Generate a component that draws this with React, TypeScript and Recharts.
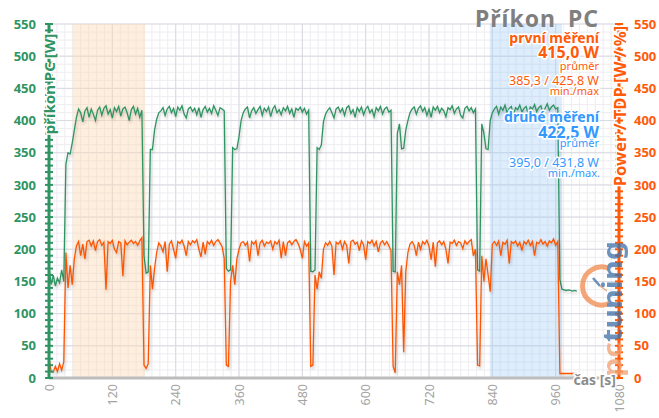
import { LineChart, Line, XAxis, YAxis, CartesianGrid, ReferenceArea } from "recharts";

// sampling step of the log [s]
const SAMPLE_STEP = 4;

// příkon PC [W], one value every 4 s from t = 0
const prikonPC = [
  172, 145, 160, 143, 155, 148, 168, 150, 332, 350,
  348, 365, 385, 405, 418, 412, 398, 415, 420, 405,
  418, 410, 400, 416, 421, 408, 419, 423, 410, 417,
  404, 420, 414, 422, 407, 418, 421, 412, 400, 417,
  422, 410, 419, 405, 416, 190, 163, 165, 355, 355,
  385, 402, 412, 415, 420, 408, 418, 422, 412, 419,
  406, 421, 416, 423, 410, 404, 418, 421, 414, 419,
  409, 420, 405, 417, 422, 413, 419, 411, 423, 416,
  408, 420, 418, 415, 170, 166, 168, 358, 355, 356,
  375, 400, 412, 418, 421, 404, 415, 420, 411, 417,
  422, 408, 419, 414, 421, 406, 418, 423, 412, 417,
  409, 420, 415, 422, 411, 418, 405, 419, 416, 421,
  413, 419, 410, 416, 166, 165, 168, 358, 355, 362,
  398, 410, 416, 420, 412, 404, 418, 421, 413, 419,
  408, 420, 423, 411, 417, 405, 420, 414, 421, 409,
  418, 422, 412, 417, 406, 420, 415, 422, 410, 418,
  421, 413, 416, 166, 165, 380, 395, 356, 357, 385,
  400, 412, 418, 421, 410, 419, 423, 414, 420, 408,
  418, 405, 421, 416, 422, 412, 419, 415, 406, 420,
  417, 423, 411, 418, 421, 408, 404, 419, 422, 415,
  420, 412, 418, 168, 166, 395, 380, 356, 355, 400,
  412, 418, 422, 410, 421, 416, 424, 412, 419, 422,
  408, 420, 417, 424, 413, 419, 422, 410, 421, 418,
  425, 414, 420, 423, 411, 419, 426, 416, 421, 424,
  418, 420, 153, 138, 137, 136, 137, 136, 135, 136,
  135,
];

// Power / TDP [W / %], same time steps
const powerTDP = [
  30, 10, 9, 18, 10, 22, 12, 25, 195, 140,
  175, 145, 185, 205, 212, 190, 208, 185, 212, 214,
  205, 213, 198, 212, 215, 206, 211, 137, 212, 209,
  214, 200, 195, 212, 210, 158, 213, 207, 211, 214,
  209, 212, 206, 213, 218, 20, 15, 22, 175, 138,
  170, 195, 210, 205, 196, 212, 165, 208, 213, 200,
  186, 212, 209, 214, 205, 190, 212, 207, 213, 210,
  215, 200, 188, 211, 192, 212, 208, 214, 206, 212,
  215, 210, 204, 186, 20, 18, 150, 175, 145, 185,
  200, 210, 212, 206, 211, 181, 212, 208, 213, 190,
  210, 214, 205, 211, 209, 213, 200, 212, 208, 214,
  186, 212, 190, 210, 213, 207, 212, 215, 209, 200,
  186, 212, 205, 210, 18, 20, 160, 138, 165, 155,
  200, 210, 206, 212, 205, 160, 211, 208, 213, 200,
  212, 206, 178, 212, 214, 208, 211, 198, 213, 207,
  184, 212, 209, 214, 205, 212, 196, 210, 213, 207,
  212, 205, 198, 18, 8, 165, 145, 175, 40, 165,
  195, 208, 212, 206, 190, 211, 200, 212, 208, 214,
  205, 184, 211, 173, 210, 213, 207, 212, 200, 178,
  211, 209, 214, 206, 212, 210, 201, 213, 208, 212,
  215, 190, 200, 20, 19, 190, 150, 185, 160, 134,
  208, 212, 206, 213, 190, 211, 208, 214, 178, 212,
  209, 213, 205, 211, 198, 212, 208, 214, 206, 212,
  190, 211, 209, 215, 208, 212, 205, 213, 210, 216,
  206, 212, 7, 7, 7, 7, 7, 7, 7, 7,
  7,
];

// measured windows [s]: první měření, druhé měření
const windows = [
  { from: 45, to: 182, fill: "#fdd9b5", opacity: 0.45 },
  { from: 835, to: 972, fill: "#9ecbf5", opacity: 0.35 },
];

const timeTicks = [0, 120, 240, 360, 480, 600, 720, 840, 960, 1080];
const minorTime = Array.from({ length: 73 }, (_, i) => i * 15);
const powerTicks = Array.from({ length: 56 }, (_, i) => i * 10);
const majorPower = [0, 50, 100, 150, 200, 250, 300, 350, 400, 450, 500, 550];
const minorPower = Array.from({ length: 45 }, (_, i) => i * 12.5);

const GREEN = "#2f9462";
const ORANGE = "#ff5a0a";
const BLUE = "#3399ff";
const FONT = "'Noto Sans', 'DejaVu Sans', sans-serif";

const data = prikonPC.map((v, i) => ({ t: i * SAMPLE_STEP, pc: v, tdp: powerTDP[i] }));

function LeftTick({ x, y, payload }: any) {
  const major = payload.value % 50 === 0;
  return (
    <g>
      <line x1={x - 4} x2={x + 4} y1={y} y2={y} stroke={GREEN} strokeWidth={2} />
      {major && (
        <text x={x - 13} y={y} dy="0.36em" textAnchor="end" fill={GREEN} fontSize={13} fontWeight={700} fontFamily={FONT}>
          {payload.value}
        </text>
      )}
    </g>
  );
}

function RightTick({ x, y, payload }: any) {
  const major = payload.value % 50 === 0;
  return (
    <g>
      <line x1={x - 4} x2={x + 4} y1={y} y2={y} stroke={ORANGE} strokeWidth={2} />
      {major && (
        <text x={x + 15} y={y} dy="0.36em" textAnchor="start" fill={ORANGE} fontSize={13} fontWeight={700} fontFamily={FONT}>
          {payload.value}
        </text>
      )}
    </g>
  );
}

function TimeTick({ x, y, payload }: any) {
  return (
    <text
      x={x}
      y={y + 6}
      transform={`rotate(-90 ${x} ${y + 6})`}
      textAnchor="end"
      dominantBaseline="central"
      fill="#a3a3a3"
      fontSize={12.5}
      fontFamily={FONT}
    >
      {payload.value}
    </text>
  );
}

const halo = { stroke: "#fff", strokeWidth: 3, paintOrder: "stroke" as const, strokeLinejoin: "round" as const };

export default function App() {
  return (
    <div style={{ position: "absolute", left: 0, top: 0, width: 659, height: 418, background: "#fff", fontFamily: FONT }}>
      <style>{`.recharts-line-curve { filter: drop-shadow(1px 2px 1.5px rgba(0,0,0,0.22)); }`}</style>
      <LineChart width={659} height={418} data={data} margin={{ top: 24, right: 0, bottom: 0, left: 0 }}>
        <CartesianGrid stroke="#ededf2" strokeWidth={1} verticalValues={minorTime} horizontalValues={minorPower} />
        <CartesianGrid stroke="#d9d9e1" strokeWidth={1} verticalValues={timeTicks} horizontalValues={majorPower} />
        {windows.map((w) => (
          <ReferenceArea key={w.from} x1={w.from} x2={w.to} fill={w.fill} fillOpacity={w.opacity} stroke="none" />
        ))}
        <XAxis
          dataKey="t"
          type="number"
          domain={[0, 1080]}
          ticks={timeTicks}
          interval={0}
          height={40}
          tickSize={0}
          tickMargin={0}
          tickLine={false}
          axisLine={{ stroke: "#bdbdbd", strokeWidth: 3 }}
          tick={<TimeTick />}
        />
        <YAxis
          domain={[0, 550]}
          ticks={powerTicks}
          interval={0}
          width={49}
          tickSize={0}
          tickMargin={0}
          tickLine={false}
          axisLine={{ stroke: GREEN, strokeWidth: 3 }}
          tick={<LeftTick />}
        />
        <YAxis
          yAxisId="right"
          orientation="right"
          domain={[0, 550]}
          ticks={powerTicks}
          interval={0}
          width={40}
          tickSize={0}
          tickMargin={0}
          tickLine={false}
          axisLine={{ stroke: ORANGE, strokeWidth: 3 }}
          tick={<RightTick />}
        />
        <Line dataKey="pc" type="linear" stroke={GREEN} strokeWidth={1.3} dot={false} isAnimationActive={false} />
        <Line dataKey="tdp" yAxisId="right" type="linear" stroke="#ff5500" strokeWidth={1.3} dot={false} isAnimationActive={false} />
      </LineChart>

      <svg width={659} height={418} style={{ position: "absolute", left: 0, top: 0, pointerEvents: "none" }} fontFamily={FONT}>
        {/* pctuning watermark */}
        <g opacity={0.75}>
          <path d="M 610 269 A 19 19 0 1 0 610 303" fill="none" stroke="#f08a4b" strokeWidth={5} />
          <line x1={600} y1={286} x2={593} y2={278} stroke="#3d6fa8" strokeWidth={2.5} />
          <line x1={600} y1={286} x2={607} y2={291} stroke="#f08a4b" strokeWidth={1.5} />
          <text x={611} y={309} transform="rotate(-90 611 309)" textAnchor="middle" dominantBaseline="central" fontSize={27} fontWeight={700} textLength={136} lengthAdjust="spacingAndGlyphs">
            <tspan fill="#f0a070">pc</tspan>
            <tspan fill="#3d6fa8">tuning</tspan>
          </text>
        </g>

        <text x={49} y={84} transform="rotate(-90 49 84)" textAnchor="middle" dominantBaseline="central" fill={GREEN} fontSize={15} fontWeight={700} {...halo}>
          příkon PC [W]
        </text>
        <text x={619} y={106} transform="rotate(-90 619 106)" textAnchor="middle" dominantBaseline="central" fill={ORANGE} fontSize={16.5} fontWeight={700} {...halo}>
          Power / TDP [W / %]
        </text>
        <text x={616} y={385} textAnchor="end" fill="#8c8c8c" fontSize={14} fontWeight={700} {...halo}>
          čas [s]
        </text>

        <g textAnchor="end">
          <text x={599} y={27} fill="#7f7f7f" fontSize={23} fontWeight={700} letterSpacing={1} wordSpacing={5}>Příkon PC</text>
          <text x={599} y={43} fill={ORANGE} fontSize={14} fontWeight={700} {...halo}>první měření</text>
          <text x={599} y={58} fill={ORANGE} fontSize={16} fontWeight={700} {...halo}>415,0 W</text>
          <text x={599} y={70} fill={ORANGE} fontSize={11} {...halo}>průměr</text>
          <text x={599} y={85} fill={ORANGE} fontSize={12.5} {...halo}>385,3 / 425,8 W</text>
          <text x={599} y={95} fill={ORANGE} fontSize={11} {...halo}>min./max</text>
          <text x={599} y={122} fill={BLUE} fontSize={14} fontWeight={700} {...halo}>druhé měření</text>
          <text x={599} y={138} fill={BLUE} fontSize={16} fontWeight={700} {...halo}>422,5 W</text>
          <text x={599} y={147} fill={BLUE} fontSize={11} {...halo}>průměr</text>
          <text x={599} y={167} fill={BLUE} fontSize={12.5} {...halo}>395,0 / 431,8 W</text>
          <text x={600} y={177} fill={BLUE} fontSize={11} {...halo}>min./max.</text>
        </g>
      </svg>
    </div>
  );
}
